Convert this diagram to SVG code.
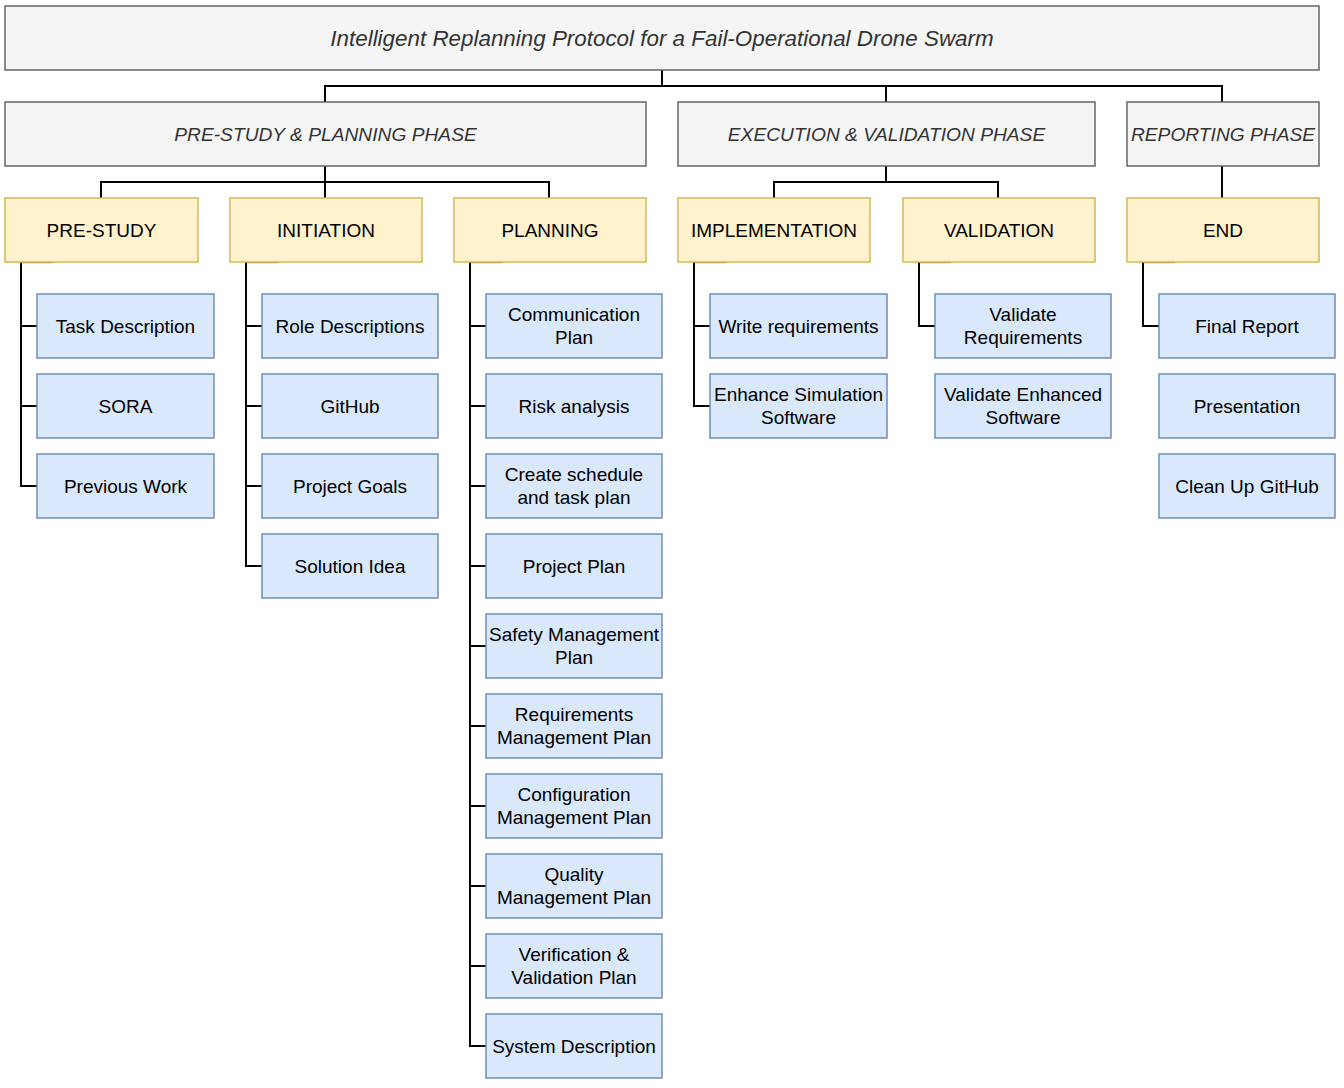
<svg xmlns="http://www.w3.org/2000/svg" width="1344" height="1088" viewBox="0 0 1344 1088">
<style>
.bg{fill:#ffffff}
.gray{fill:#f5f5f5;stroke:#666666;stroke-width:1.5}
.yel{fill:#fff2cc;stroke:#d6b656;stroke-width:1.5}
.blue{fill:#dae8fc;stroke:#6c8ebf;stroke-width:1.5}
.t{font-family:"Liberation Sans",Arial,Helvetica,sans-serif;font-size:19px;text-anchor:middle;fill:#000000}
.ti{font-family:"Liberation Sans",Arial,Helvetica,sans-serif;font-style:italic;text-anchor:middle;fill:#333333}
.e{fill:none;stroke:#000000;stroke-width:2}
.tab{fill:none;stroke:#a8965c;stroke-width:1.5}
</style>
<rect class="bg" x="0" y="0" width="1344" height="1088"/>

<g id="connectors">
  <path class="e" d="M662,70 V86 M325,102 V86 H1222 V102 M886,86 V102"/>
  <path class="e" d="M325,166 V182 M101,198 V182 H549 V198 M325,182 V198"/>
  <path class="e" d="M886,166 V182 M774,198 V182 H998 V198"/>
  <path class="e" d="M1222,166 V198"/>
  <path class="tab" d="M21,262.5 H53 M246,262.5 H278 M470,262.5 H502 M694,262.5 H726 M919,262.5 H951 M1143,262.5 H1175"/>
  <path class="e" d="M21,262 V486 H37 M21,326 H37 M21,406 H37"/>
  <path class="e" d="M246,262 V566 H262 M246,326 H262 M246,406 H262 M246,486 H262"/>
  <path class="e" d="M470,262 V1046 H486 M470,326 H486 M470,406 H486 M470,486 H486 M470,566 H486 M470,646 H486 M470,726 H486 M470,806 H486 M470,886 H486 M470,966 H486"/>
  <path class="e" d="M694,262 V406 H710 M694,326 H710"/>
  <path class="e" d="M919,262 V326 H935"/>
  <path class="e" d="M1143,262 V326 H1159"/>
</g>

<g id="title">
  <rect class="gray" x="5" y="6" width="1314" height="64"/>
  <text class="ti" x="662" y="45.5" font-size="22.4">Intelligent Replanning Protocol for a Fail-Operational Drone Swarm</text>
</g>

<g id="phase-prestudy">
  <rect class="gray" x="5" y="102" width="641" height="64"/>
  <text class="ti" x="325.5" y="140.8" font-size="19.2">PRE-STUDY &amp; PLANNING PHASE</text>
</g>
<g id="phase-execution">
  <rect class="gray" x="678" y="102" width="417" height="64"/>
  <text class="ti" x="886.5" y="140.8" font-size="19.2">EXECUTION &amp; VALIDATION PHASE</text>
</g>
<g id="phase-reporting">
  <rect class="gray" x="1127" y="102" width="192" height="64"/>
  <text class="ti" x="1223" y="140.8" font-size="19.2">REPORTING PHASE</text>
</g>

<g id="prestudy">
  <rect class="yel" x="5" y="198" width="193" height="64"/>
  <text class="t" x="101.5" y="236.8">PRE-STUDY</text>
</g>
<g id="initiation">
  <rect class="yel" x="230" y="198" width="192" height="64"/>
  <text class="t" x="326" y="236.8">INITIATION</text>
</g>
<g id="planning">
  <rect class="yel" x="454" y="198" width="192" height="64"/>
  <text class="t" x="550" y="236.8">PLANNING</text>
</g>
<g id="implementation">
  <rect class="yel" x="678" y="198" width="192" height="64"/>
  <text class="t" x="774" y="236.8">IMPLEMENTATION</text>
</g>
<g id="validation">
  <rect class="yel" x="903" y="198" width="192" height="64"/>
  <text class="t" x="999" y="236.8">VALIDATION</text>
</g>
<g id="end">
  <rect class="yel" x="1127" y="198" width="192" height="64"/>
  <text class="t" x="1223" y="236.8">END</text>
</g>

<!-- Pre-study children -->
<g id="task-description">
  <rect class="blue" x="37" y="294" width="177" height="64"/>
  <text class="t" x="125.5" y="332.8">Task Description</text>
</g>
<g id="sora">
  <rect class="blue" x="37" y="374" width="177" height="64"/>
  <text class="t" x="125.5" y="412.8">SORA</text>
</g>
<g id="previous-work">
  <rect class="blue" x="37" y="454" width="177" height="64"/>
  <text class="t" x="125.5" y="492.8">Previous Work</text>
</g>

<!-- Initiation children -->
<g id="role-descriptions">
  <rect class="blue" x="262" y="294" width="176" height="64"/>
  <text class="t" x="350" y="332.8">Role Descriptions</text>
</g>
<g id="github">
  <rect class="blue" x="262" y="374" width="176" height="64"/>
  <text class="t" x="350" y="412.8">GitHub</text>
</g>
<g id="project-goals">
  <rect class="blue" x="262" y="454" width="176" height="64"/>
  <text class="t" x="350" y="492.8">Project Goals</text>
</g>
<g id="solution-idea">
  <rect class="blue" x="262" y="534" width="176" height="64"/>
  <text class="t" x="350" y="572.8">Solution Idea</text>
</g>

<!-- Planning children -->
<g id="communication-plan">
  <rect class="blue" x="486" y="294" width="176" height="64"/>
  <text class="t" x="574" y="321.3">Communication</text>
  <text class="t" x="574" y="344.3">Plan</text>
</g>
<g id="risk-analysis">
  <rect class="blue" x="486" y="374" width="176" height="64"/>
  <text class="t" x="574" y="412.8">Risk analysis</text>
</g>
<g id="create-schedule">
  <rect class="blue" x="486" y="454" width="176" height="64"/>
  <text class="t" x="574" y="481.3">Create schedule</text>
  <text class="t" x="574" y="504.3">and task plan</text>
</g>
<g id="project-plan">
  <rect class="blue" x="486" y="534" width="176" height="64"/>
  <text class="t" x="574" y="572.8">Project Plan</text>
</g>
<g id="safety-management-plan">
  <rect class="blue" x="486" y="614" width="176" height="64"/>
  <text class="t" x="574" y="641.3">Safety Management</text>
  <text class="t" x="574" y="664.3">Plan</text>
</g>
<g id="requirements-management-plan">
  <rect class="blue" x="486" y="694" width="176" height="64"/>
  <text class="t" x="574" y="721.3">Requirements</text>
  <text class="t" x="574" y="744.3">Management Plan</text>
</g>
<g id="configuration-management-plan">
  <rect class="blue" x="486" y="774" width="176" height="64"/>
  <text class="t" x="574" y="801.3">Configuration</text>
  <text class="t" x="574" y="824.3">Management Plan</text>
</g>
<g id="quality-management-plan">
  <rect class="blue" x="486" y="854" width="176" height="64"/>
  <text class="t" x="574" y="881.3">Quality</text>
  <text class="t" x="574" y="904.3">Management Plan</text>
</g>
<g id="vv-plan">
  <rect class="blue" x="486" y="934" width="176" height="64"/>
  <text class="t" x="574" y="961.3">Verification &amp;</text>
  <text class="t" x="574" y="984.3">Validation Plan</text>
</g>
<g id="system-description">
  <rect class="blue" x="486" y="1014" width="176" height="64"/>
  <text class="t" x="574" y="1052.8">System Description</text>
</g>

<!-- Implementation children -->
<g id="write-requirements">
  <rect class="blue" x="710" y="294" width="177" height="64"/>
  <text class="t" x="798.5" y="332.8">Write requirements</text>
</g>
<g id="enhance-simulation">
  <rect class="blue" x="710" y="374" width="177" height="64"/>
  <text class="t" x="798.5" y="401.3">Enhance Simulation</text>
  <text class="t" x="798.5" y="424.3">Software</text>
</g>

<!-- Validation children -->
<g id="validate-requirements">
  <rect class="blue" x="935" y="294" width="176" height="64"/>
  <text class="t" x="1023" y="321.3">Validate</text>
  <text class="t" x="1023" y="344.3">Requirements</text>
</g>
<g id="validate-enhanced">
  <rect class="blue" x="935" y="374" width="176" height="64"/>
  <text class="t" x="1023" y="401.3">Validate Enhanced</text>
  <text class="t" x="1023" y="424.3">Software</text>
</g>

<!-- End children -->
<g id="final-report">
  <rect class="blue" x="1159" y="294" width="176" height="64"/>
  <text class="t" x="1247" y="332.8">Final Report</text>
</g>
<g id="presentation">
  <rect class="blue" x="1159" y="374" width="176" height="64"/>
  <text class="t" x="1247" y="412.8">Presentation</text>
</g>
<g id="clean-up-github">
  <rect class="blue" x="1159" y="454" width="176" height="64"/>
  <text class="t" x="1247" y="492.8">Clean Up GitHub</text>
</g>
</svg>
